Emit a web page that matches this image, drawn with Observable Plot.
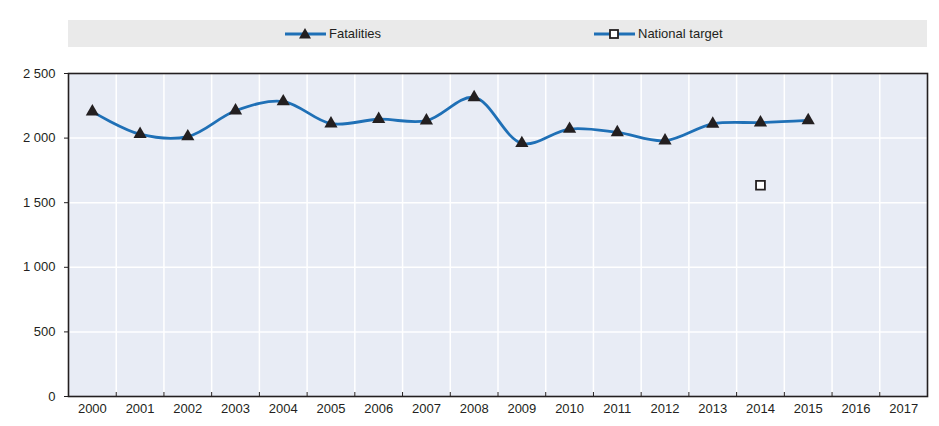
<!DOCTYPE html>
<html>
<head>
<meta charset="utf-8">
<script src="https://cdn.jsdelivr.net/npm/d3@7"></script>
<script src="https://cdn.jsdelivr.net/npm/@observablehq/plot@0.6"></script>
<style>
  html, body { margin: 0; padding: 0; background: #fff; overflow: hidden; }
  body { width: 939px; height: 426px; font-family: 'Liberation Sans', Arial, sans-serif; }
  #legend { position: relative; margin: 20px 0 0 68px; width: 859px; height: 27px; background: #eaeaea; font-size: 13px; color: #231f20; }
  .item { position: absolute; top: 0; height: 27px; display: flex; align-items: center; }
  .item svg { display: block; margin-right: 3px; }
  #chart svg { display: block; }
</style>
</head>
<body>
<div id="legend"></div>
<div id="chart"></div>
<script>
const years = [2000, 2001, 2002, 2003, 2004, 2005, 2006, 2007, 2008, 2009, 2010, 2011, 2012, 2013, 2014, 2015];
const fatalities = [2205, 2030, 2012, 2212, 2283, 2112, 2146, 2135, 2315, 1960, 2070, 2044, 1980, 2110, 2120, 2137];
const targetYears = [2014];
const targetValues = [1635];
const axisYears = [2000, 2001, 2002, 2003, 2004, 2005, 2006, 2007, 2008, 2009, 2010, 2011, 2012, 2013, 2014, 2015, 2016, 2017];
const yTicks = [0, 500, 1000, 1500, 2000, 2500];
const seriesNames = ["Fatalities", "National target"];

const blue = "#1f70b6";
const dark = "#231f20";

const fatal = years.map((y, i) => ({year: y, value: fatalities[i]}));
const target = targetYears.map((y, i) => ({year: y, value: targetValues[i]}));
const bounds = axisYears.slice(1).map(y => y - 0.5);
const fmt = d => d3.format(",")(d).replace(/,/g, " ");

// legend
const legend = document.getElementById("legend");
const items = [
  {name: seriesNames[0], left: 217, marker: `<path d="M20,3 L26,13.5 L14,13.5 Z" fill="${dark}"/>`},
  {name: seriesNames[1], left: 526, marker: `<rect x="16" y="5" width="8" height="8" fill="#fff" stroke="${dark}" stroke-width="1.8"/>`}
];
for (const it of items) {
  const d = document.createElement("div");
  d.className = "item";
  d.style.left = it.left + "px";
  d.innerHTML = `<svg width="41" height="18"><line x1="0" x2="41" y1="9" y2="9" stroke="${blue}" stroke-width="3"/>${it.marker}</svg><span>${it.name}</span>`;
  legend.appendChild(d);
}

const chart = Plot.plot({
  width: 939,
  height: 379,
  marginTop: 26,
  marginBottom: 30,
  marginLeft: 68,
  marginRight: 12,
  style: {fontFamily: "'Liberation Sans',Arial,sans-serif", fontSize: "13px", color: dark, background: "transparent"},
  x: {type: "linear", domain: [1999.5, 2017.5]},
  y: {domain: [0, 2500]},
  marks: [
    Plot.frame({fill: "#e8ecf5", stroke: null}),
    Plot.ruleY(yTicks.slice(1, -1), {stroke: "#fff", strokeWidth: 1.5}),
    Plot.ruleX(bounds, {stroke: "#fff", strokeWidth: 1.5}),
    Plot.axisY(yTicks, {tickSize: 4, tickPadding: 9, tickFormat: fmt, label: null, stroke: dark, fontSize: 13}),
    Plot.axisX(axisYears, {tickSize: 0, tickPadding: 7, tickFormat: d => String(d), label: null, fontSize: 13}),
    Plot.axisX(bounds, {tickSize: -4, tickFormat: () => "", label: null, stroke: dark}),
    Plot.line(fatal, {x: "year", y: "value", stroke: blue, strokeWidth: 2.8, curve: "catmull-rom"}),
    Plot.dot(fatal, {x: "year", y: "value", symbol: "triangle", r: 4.9, fill: dark, stroke: null}),
    Plot.dot(target, {x: "year", y: "value", symbol: "square", r: 5, fill: "#fff", stroke: dark, strokeWidth: 1.8}),
    Plot.frame({stroke: dark, strokeWidth: 1.6})
  ]
});
document.getElementById("chart").appendChild(chart);
</script>
</body>
</html>
